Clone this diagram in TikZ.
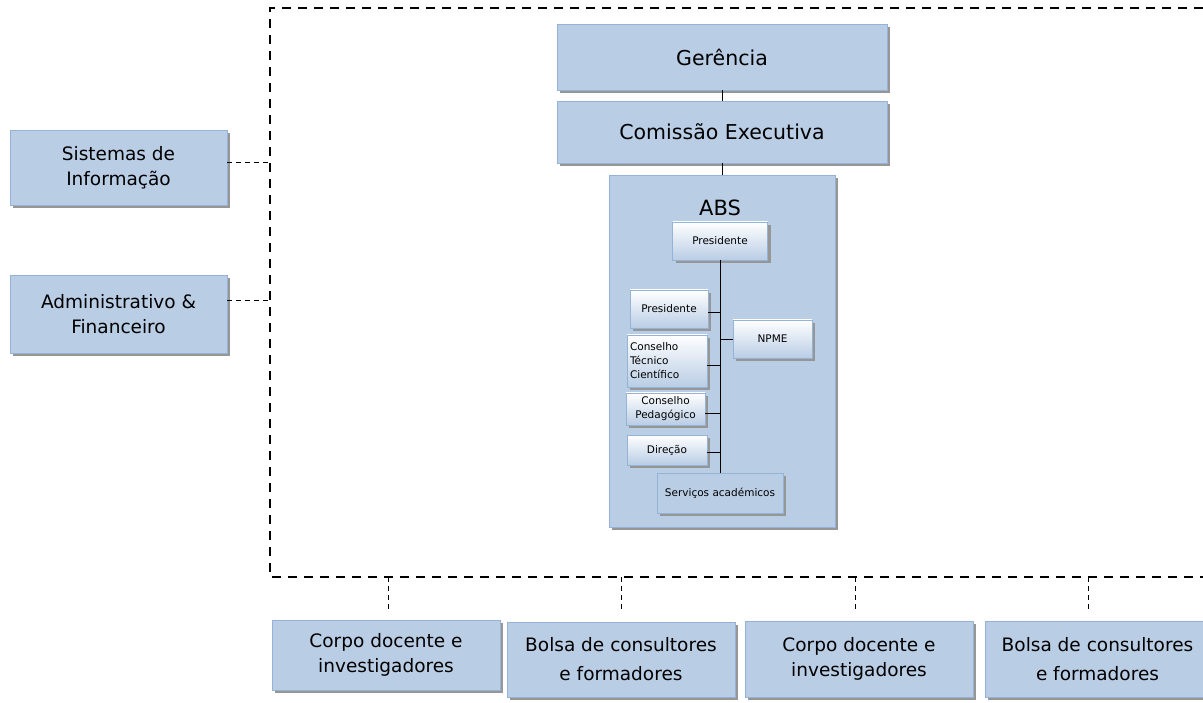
\documentclass[tikz,border=0pt]{standalone}
\usepackage{fontspec}
\setmainfont{DejaVu Sans}
\usetikzlibrary{shadows}
\definecolor{boxfill}{RGB}{185,205,229}
\definecolor{boxline}{RGB}{149,179,215}
\definecolor{boxshade}{RGB}{150,150,150}
\tikzset{
	bluebox/.style = {draw=boxline, fill=boxfill, align=center,
		inner sep=2pt, outer sep=0pt,
		drop shadow={shadow xshift=3pt, shadow yshift=-3pt,
			fill=boxshade, opacity=1}},
	whitebox/.style = {draw=boxline, top color=white, bottom color=boxfill,
		align=center, inner sep=2pt, outer sep=0pt, font=\fontsize{10.5}{14}\selectfont,
		drop shadow={shadow xshift=3pt, shadow yshift=-3pt,
			fill=boxshade, opacity=1}},
	frame/.style = {line width=2pt, dash pattern=on 9pt off 7pt},
	link/.style = {line width=0.9pt, dash pattern=on 5pt off 4pt}
}

\begin{document}
\begin{tikzpicture}[x=1pt, y=-1pt]
\useasboundingbox (0,0) rectangle (1203,703);

% frame
\coordinate (ftl) at (270,8);
\coordinate (ftr) at (1203,8);
\coordinate (fbl) at (270,577);
\coordinate (fbr) at (1203,577);
\draw[frame] (ftr) -- (ftl) -- (fbl) -- (fbr);

% top of the chart
\node[bluebox, minimum width=330, minimum height=66, font=\fontsize{20.5}{24}\selectfont] (ger) at (722,57) {Gerência};
\node[bluebox, minimum width=330, minimum height=62, font=\fontsize{20.5}{24}\selectfont] (com) at (722,132) {Comissão Executiva};
\node[bluebox, minimum width=226, minimum height=352] (abs) at (722,351) {};
\node[font=\fontsize{21}{25}\selectfont] (abstitle) at (720,208) {ABS};

\draw (ger) -- (com);
\draw (com) -- (abs);

% inside ABS
\node[whitebox, minimum width=95, minimum height=38] (pres) at (720,241) {Presidente};
\node[whitebox, minimum width=78, minimum height=38] (presl) at (669,309) {Presidente};
\node[whitebox, minimum width=79, minimum height=38] (npme) at (772.5,339) {NPME};
\node[whitebox, minimum width=80, minimum height=52, align=left, text width=74, inner sep=1pt] (ctc) at (667,361) {Conselho\\Técnico\\Científico};
\node[whitebox, minimum width=79, minimum height=32, inner sep=1pt] (cped) at (665.5,409) {Conselho\\Pedagógico};
\node[whitebox, minimum width=80, minimum height=30] (dir) at (667,450) {Direção};
\node[bluebox, minimum width=126, minimum height=40, font=\fontsize{10.5}{14}\selectfont] (serv) at (720,493) {Serviços académicos};

\draw (pres) -- (serv);
\draw ([yshift=-3pt]presl.east) -- ([yshift=-3pt]presl.east -| pres.south);
\draw (npme.west) -- (npme.west -| pres.south);
\draw ([yshift=-4pt]ctc.east) -- ([yshift=-4pt]ctc.east -| pres.south);
\draw ([yshift=-4pt]cped.east) -- ([yshift=-4pt]cped.east -| pres.south);
\draw ([yshift=-2pt]dir.east) -- ([yshift=-2pt]dir.east -| pres.south);

% left side
\node[bluebox, minimum width=217, minimum height=75, font=\fontsize{18.5}{25}\selectfont] (sis) at (118.5,167.5) {Sistemas de\\Informação};
\node[bluebox, minimum width=217, minimum height=78, font=\fontsize{18.5}{25}\selectfont] (adm) at (118.5,314) {Administrativo \&\\Financeiro};

\draw[link] ([yshift=5pt]sis.east) -- ([yshift=5pt]sis.east -| ftl);
\draw[link] ([yshift=14pt]adm.east) -- ([yshift=14pt]adm.east -| ftl);

% bottom row
\node[bluebox, minimum width=228, minimum height=70, font=\fontsize{18.5}{25}\selectfont] (cd1) at (386,655) {Corpo docente e\\investigadores};
\node[bluebox, minimum width=228, minimum height=75, font=\fontsize{18.5}{29}\selectfont] (bc1) at (621,659.5) {Bolsa de consultores\\e formadores};
\node[bluebox, minimum width=228, minimum height=76, font=\fontsize{18.5}{25}\selectfont] (cd2) at (859,659) {Corpo docente e\\investigadores};
\node[bluebox, minimum width=225, minimum height=76, font=\fontsize{18.5}{29}\selectfont] (bc2) at (1097.5,659) {Bolsa de consultores\\e formadores};

\foreach \b/\dx in {cd1/2, bc1/0, cd2/-4, bc2/-9}
	\draw[link, line width=0.6pt] ([xshift=\dx pt]\b.north |- fbl) -- ([xshift=\dx pt, yshift=10pt]\b.north);
\end{tikzpicture}
\end{document}
